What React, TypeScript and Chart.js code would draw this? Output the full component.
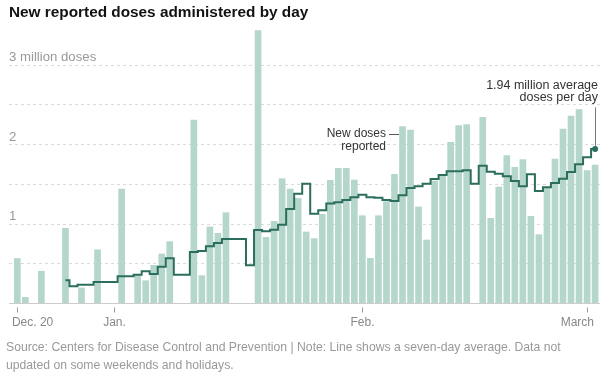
import React, { useEffect, useRef } from "react";
import { Chart, registerables } from "chart.js";

Chart.register(...registerables);

// Days counted from Dec. 20 (day 0) to March 2 (day 72)
const dayCount = 73;
const days: number[] = Array.from({ length: dayCount }, (_, i) => i);

// New reported doses (millions); null = no data reported that day
const newDoses: (number | null)[] = [
  0.56, 0.07, null, 0.4, null, null, 0.94, null, 0.19, null,
  0.67, null, null, 1.435, null, 0.344, 0.281, 0.474, 0.617, 0.772,
  null, null, 2.304, 0.344, 0.957, 0.877, 1.137, null, null, null,
  3.43, 0.827, 1.028, 1.565, 1.435, 1.318, 0.894, 0.81, 1.116, 1.544,
  1.695, 1.695, 1.548, 1.099, 0.562, 1.099, 1.276, 1.62, 2.22, 2.178,
  1.209, 0.793, 1.536, 1.603, 2.023, 2.233, 2.245, null, 2.337, 1.066,
  1.46, 1.855, 1.708, 1.804, 1.091, 0.86, 1.456, 1.813, 2.19, 2.354,
  2.434, 1.666, 1.737,
];

// Seven-day average (millions), starting at day 6 (Dec. 26)
const avgStartDay = 6;
const sevenDayAvg: number[] = [
  0.285, 0.21, 0.231, 0.231, 0.264, 0.264, 0.264, 0.336, 0.336, 0.357,
  0.399, 0.365, 0.457, 0.562, 0.357, 0.357, 0.642, 0.655, 0.713, 0.755,
  0.806, 0.806, 0.806, 0.474, 0.919, 0.902, 0.923, 0.986, 1.183, 1.376,
  1.502, 1.125, 1.167, 1.251, 1.267, 1.297, 1.33, 1.364, 1.33, 1.326,
  1.297, 1.284, 1.355, 1.448, 1.469, 1.502, 1.561, 1.611, 1.658, 1.658,
  1.67, 1.502, 1.729, 1.653, 1.628, 1.595, 1.536, 1.469, 1.62, 1.41,
  1.456, 1.511, 1.565, 1.649, 1.746, 1.834, 1.94,
];

const tickDays = [0, 12, 43, 71];
const tickLabels = ["Dec. 20", "Jan.", "Feb.", "March"];
const yGridValues = [0.5, 1, 1.5, 2, 2.5, 3];
const yLabelValues = [1, 2, 3];
const yLabelTexts = ["1", "2", "3 million doses"];

const titleText = "New reported doses administered by day";
const sourceLines = [
  "Source: Centers for Disease Control and Prevention | Note: Line shows a seven-day average. Data not",
  "updated on some weekends and holidays.",
];
const annotationDay = 48;
const annotationLines = ["New doses", "reported"];
const lastAvgLines = ["1.94 million average", "doses per day"];

const FONT = '"Liberation Sans", Arial, sans-serif';
const BAR_COLOR = "#b4d6cb";
const LINE_COLOR = "#2c6e5d";

const decorPlugin = {
  id: "decor",
  beforeDatasetsDraw(chart: any) {
    const { ctx, scales } = chart;
    const y = scales.y;
    const left = 9;
    const right = 600;
    ctx.save();
    ctx.lineWidth = 1;
    ctx.strokeStyle = "#dadada";
    ctx.setLineDash([3, 3]);
    yGridValues.forEach((v) => {
      const py = Math.round(y.getPixelForValue(v)) + 0.5;
      ctx.beginPath();
      ctx.moveTo(left, py);
      ctx.lineTo(right, py);
      ctx.stroke();
    });
    ctx.setLineDash([]);
    ctx.restore();
  },
  afterDatasetsDraw(chart: any) {
    const { ctx, scales } = chart;
    const x = scales.x;
    const y = scales.y;
    ctx.save();

    // baseline
    const by = Math.round(y.getPixelForValue(0)) + 0.5;
    ctx.strokeStyle = "#cccccc";
    ctx.lineWidth = 1;
    ctx.beginPath();
    ctx.moveTo(9, by);
    ctx.lineTo(600, by);
    ctx.stroke();

    // title
    ctx.fillStyle = "#121212";
    ctx.font = `bold 15.35px ${FONT}`;
    ctx.textAlign = "left";
    ctx.textBaseline = "alphabetic";
    ctx.fillText(titleText, 9, 17);

    // y labels
    ctx.fillStyle = "#999999";
    ctx.font = `13.2px ${FONT}`;
    yLabelValues.forEach((v, i) => {
      const py = y.getPixelForValue(v);
      ctx.fillText(yLabelTexts[i], 9, py - 3.5);
    });

    // x ticks & labels
    ctx.strokeStyle = "#999999";
    ctx.fillStyle = "#888888";
    ctx.font = `12px ${FONT}`;
    tickDays.forEach((d, i) => {
      const px = Math.round(x.getPixelForValue(d)) + 0.5;
      ctx.beginPath();
      ctx.moveTo(px, by + 4);
      ctx.lineTo(px, by + 9);
      ctx.stroke();
      let tx = px;
      if (i === 0) {
        ctx.textAlign = "left";
        tx = px - 5.6;
      } else if (i === tickDays.length - 1) {
        ctx.textAlign = "right";
        tx = px + 6.5;
      } else {
        ctx.textAlign = "center";
      }
      ctx.fillText(tickLabels[i], tx, 326);
    });

    // source
    ctx.textAlign = "left";
    ctx.fillStyle = "#999999";
    ctx.font = `12.2px ${FONT}`;
    ctx.fillText(sourceLines[0], 6, 350.5);
    ctx.fillText(sourceLines[1], 6, 369);

    // "New doses reported" annotation
    const ax = x.getPixelForValue(annotationDay);
    const ay = y.getPixelForValue(newDoses[annotationDay] as number);
    ctx.fillStyle = "#333333";
    ctx.font = `12px ${FONT}`;
    ctx.textAlign = "right";
    ctx.fillText(annotationLines[0], ax - 16.5, ay + 10.5);
    ctx.fillText(annotationLines[1], ax - 16.5, ay + 23.5);
    ctx.strokeStyle = "#555555";
    ctx.beginPath();
    ctx.moveTo(ax - 13.5, Math.round(ay + 7.5) + 0.5);
    ctx.lineTo(ax - 3.5, Math.round(ay + 7.5) + 0.5);
    ctx.stroke();

    // last average annotation
    const meta = chart.getDatasetMeta(0);
    const last = meta.data[meta.data.length - 1];
    const lx = Math.round(last.x) + 0.5;
    ctx.strokeStyle = "#777777";
    ctx.beginPath();
    ctx.moveTo(lx, last.y - 41.5);
    ctx.lineTo(lx, last.y - 3);
    ctx.stroke();
    ctx.fillStyle = "#333333";
    ctx.font = `12.5px ${FONT}`;
    ctx.textAlign = "right";
    ctx.fillText(lastAvgLines[0], 598, last.y - 60);
    ctx.fillText(lastAvgLines[1], 598, last.y - 47.5);

    ctx.restore();
  },
};

export default function App() {
  const canvasRef = useRef<HTMLCanvasElement | null>(null);

  useEffect(() => {
    document.body.style.margin = "0";
    const canvas = canvasRef.current;
    if (!canvas) return;

    const barData = days
      .map((d) => ({ x: d, y: newDoses[d] }))
      .filter((p) => p.y !== null);
    const lineData = sevenDayAvg.map((v, i) => ({ x: avgStartDay + i, y: v }));
    const lastIndex = lineData.length - 1;

    const chart = new Chart(canvas, {
      type: "bar",
      data: {
        datasets: [
          {
            type: "line",
            data: lineData as any,
            borderColor: LINE_COLOR,
            borderWidth: 2,
            stepped: "middle",
            pointRadius: (c: any) => (c.dataIndex === lastIndex ? 3 : 0),
            pointBackgroundColor: LINE_COLOR,
            pointBorderWidth: 0,
            pointHoverRadius: 0,
            order: 0,
          } as any,
          {
            type: "bar",
            data: barData as any,
            backgroundColor: BAR_COLOR,
            borderWidth: 0,
            barThickness: 6,
            order: 1,
          } as any,
        ],
      },
      options: {
        animation: false,
        responsive: false,
        devicePixelRatio: 1,
        events: [],
        layout: { padding: { left: 9, right: 7, top: 17, bottom: 72 } },
        plugins: {
          legend: { display: false },
          tooltip: { enabled: false },
          title: { display: false },
        },
        scales: {
          x: {
            type: "linear",
            display: false,
            offset: false,
            min: -1.034,
            max: 72.61,
          },
          y: {
            type: "linear",
            display: false,
            min: 0,
            max: 3.6,
          },
        },
      },
      plugins: [decorPlugin],
    });

    return () => chart.destroy();
  }, []);

  return (
    <div style={{ position: "absolute", left: 0, top: 0, width: 607, height: 375, background: "#fff" }}>
      <canvas ref={canvasRef} width={607} height={375} style={{ width: 607, height: 375, display: "block" }} />
    </div>
  );
}
